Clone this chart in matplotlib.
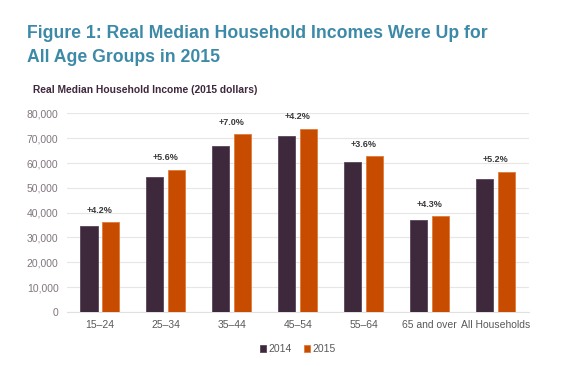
# Real median household income by age group, 2014 vs 2015
import numpy as np
import matplotlib.pyplot as plt

plt.rcParams['font.family'] = ['Liberation Sans', 'DejaVu Sans']

# data
groups = ['15\u201324', '25\u201334', '35\u201344', '45\u201354', '55\u201364', '65 and over', 'All Households']
income_2014 = [34600, 54300, 66900, 70900, 60550, 36930, 53720]
income_2015 = [36050, 57370, 71600, 73900, 62730, 38520, 56520]
pct_change = ['+4.2%', '+5.6%', '+7.0%', '+4.2%', '+3.6%', '+4.3%', '+5.2%']
yticks = [0, 10000, 20000, 30000, 40000, 50000, 60000, 70000, 80000]

dark = '#3d283c'
orange = '#c84c00'

fig = plt.figure(figsize=(5.76, 3.66), dpi=100)
ax = fig.add_axes([0.116, 0.148, 0.802, 0.542])

x = np.arange(len(groups))
w = 0.26
ax.bar(x - 0.165, income_2014, w, color=dark, edgecolor='#5a4558', linewidth=0.6, label='2014', zorder=3)
ax.bar(x + 0.165, income_2015, w, color=orange, edgecolor='#e07a3c', linewidth=0.6, label='2015', zorder=3)

# percent change labels above each pair
for i in range(len(groups)):
    top = max(income_2014[i], income_2015[i])
    ax.text(x[i], top + 3000, pct_change[i], ha='center', va='bottom',
            fontsize=6.5, fontweight='bold', color='#3a3a3a')

ax.set_xlim(-0.5, len(groups) - 0.5)
ax.set_ylim(0, 80000)
ax.set_yticks(yticks)
ax.set_yticklabels(['{:,}'.format(v) for v in yticks])
ax.set_xticks(x)
ax.set_xticklabels(groups)
ax.tick_params(axis='y', length=0, labelsize=7.5, labelcolor='#80767e', pad=6)
ax.tick_params(axis='x', length=0, labelsize=7.5, labelcolor='#595959', pad=6)
ax.grid(axis='y', color='#e6e6e6', linewidth=0.8, zorder=0)
for s in ['top', 'right', 'left']:
    ax.spines[s].set_visible(False)
ax.spines['bottom'].set_color('#e0e0e0')

ax.legend(loc='upper center', bbox_to_anchor=(0.5, -0.115), ncol=2, frameon=False,
          fontsize=7.5, handlelength=0.6, handleheight=0.6, handletextpad=0.2,
          columnspacing=1.2, labelcolor='#595959')

fig.text(0.047, 0.876, 'Figure 1: Real Median Household Incomes Were Up for\nAll Age Groups in 2015',
         fontsize=12.7, fontweight='bold', color='#3d8aa8', va='center', linespacing=1.55)
fig.text(0.057, 0.755, 'Real Median Household Income (2015 dollars)', fontsize=7.4,
         fontweight='bold', color='#3d283c', va='center')

plt.savefig('out.png', dpi=100)
